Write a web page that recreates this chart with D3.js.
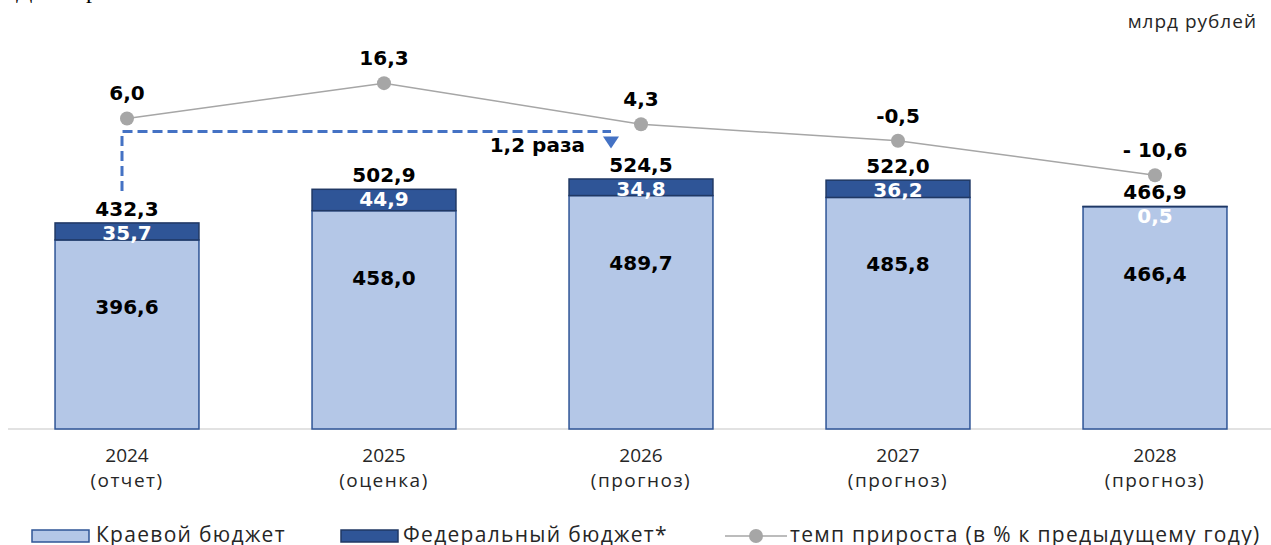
<!DOCTYPE html>
<html>
<head>
<meta charset="utf-8">
<script src="https://cdn.jsdelivr.net/npm/d3@7"></script>
<style>
  body { margin: 0; background: #fff; }
  svg { display: block; }
</style>
</head>
<body>
<div id="chart"></div>
<script>
// data
var years = ["2024", "2025", "2026", "2027", "2028"];
var subLabels = ["(отчет)", "(оценка)", "(прогноз)", "(прогноз)", "(прогноз)"];
var kraevoy = [396.6, 458.0, 489.7, 485.8, 466.4];
var federal = [35.7, 44.9, 34.8, 36.2, 0.5];
var totals = [432.3, 502.9, 524.5, 522.0, 466.9];
var growth = [6.0, 16.3, 4.3, -0.5, -10.6];
var growthLabels = ["6,0", "16,3", "4,3", "-0,5", "- 10,6"];

var W = 1271, H = 545;
var fmt = function (v) { return v.toFixed(1).replace(".", ","); };

var svg = d3.select("#chart")
  .append("svg")
  .attr("width", W)
  .attr("height", H);

var x = d3.scaleBand()
  .domain(years)
  .range([-1.5, 1283.5])
  .paddingInner(0.44)
  .paddingOuter(0.22);

var y = d3.scaleLinear()
  .domain([0, 900])
  .range([429, 0]);

var yLine = d3.scaleLinear()
  .domain([-40, 40])
  .range([276, 2]);

var boldFont = "'DejaVu Sans', Verdana, sans-serif";
var plainFont = "'Open Sans', 'Noto Sans', sans-serif";

// cut-off heading above the chart
svg.append("text")
  .attr("x", 16).attr("y", -2)
  .style("font-family", "'Liberation Serif', serif")
  .style("font-size", 24)
  .text("Д");
svg.append("text")
  .attr("x", 86).attr("y", -2)
  .style("font-family", "'Liberation Serif', serif")
  .style("font-size", 24)
  .text("р");

// units
svg.append("text")
  .attr("x", 1257).attr("y", 28)
  .attr("text-anchor", "end")
  .attr("fill", "#262626")
  .style("font-family", plainFont)
  .style("font-size", 19)
  .style("letter-spacing", "1px")
  .text("млрд рублей");

// axis line
svg.append("line")
  .attr("x1", 8).attr("x2", W)
  .attr("y1", y(0)).attr("y2", y(0))
  .attr("stroke", "#d9d9d9")
  .attr("stroke-width", 1.5);

var rows = years.map(function (d, i) {
  return { year: d, sub: subLabels[i], k: kraevoy[i], f: federal[i], t: totals[i], g: growth[i], gl: growthLabels[i] };
});

// bars
var bars = svg.append("g");
bars.selectAll("rect.k")
  .data(rows).enter()
  .append("rect")
  .attr("x", function (d) { return x(d.year); })
  .attr("y", function (d) { return y(d.k); })
  .attr("width", x.bandwidth())
  .attr("height", function (d) { return y(0) - y(d.k); })
  .attr("fill", "#b4c7e7")
  .attr("stroke", "#2f5597")
  .attr("stroke-width", 1.5);

bars.selectAll("rect.f")
  .data(rows).enter()
  .append("rect")
  .attr("x", function (d) { return x(d.year); })
  .attr("y", function (d) { return y(d.k + d.f); })
  .attr("width", x.bandwidth())
  .attr("height", function (d) { return y(d.k) - y(d.k + d.f); })
  .attr("fill", "#2f5597")
  .attr("stroke", "#203864")
  .attr("stroke-width", 1.5);

// bar labels
var cx = function (d) { return x(d.year) + x.bandwidth() / 2; };

svg.append("g").selectAll("text")
  .data(rows).enter()
  .append("text")
  .attr("x", cx)
  .attr("y", function (d) { return y(d.t) - 7; })
  .attr("text-anchor", "middle")
  .style("font-family", boldFont)
  .style("font-weight", "bold")
  .style("font-size", 20)
  .text(function (d) { return fmt(d.t); });

svg.append("g").selectAll("text")
  .data(rows).enter()
  .append("text")
  .attr("x", cx)
  .attr("y", function (d) { return y(d.k + d.f) + 17; })
  .attr("text-anchor", "middle")
  .attr("fill", "#fff")
  .style("font-family", boldFont)
  .style("font-weight", "bold")
  .style("font-size", 20)
  .text(function (d) { return fmt(d.f); });

svg.append("g").selectAll("text")
  .data(rows).enter()
  .append("text")
  .attr("x", cx)
  .attr("y", function (d) { return y(d.k) + 74; })
  .attr("text-anchor", "middle")
  .style("font-family", boldFont)
  .style("font-weight", "bold")
  .style("font-size", 20)
  .text(function (d) { return fmt(d.k); });

// growth line
var line = d3.line()
  .x(cx)
  .y(function (d) { return yLine(d.g); });

svg.append("path")
  .datum(rows)
  .attr("d", line)
  .attr("fill", "none")
  .attr("stroke", "#a6a6a6")
  .attr("stroke-width", 1.5);

svg.append("g").selectAll("circle")
  .data(rows).enter()
  .append("circle")
  .attr("cx", cx)
  .attr("cy", function (d) { return yLine(d.g); })
  .attr("r", 7)
  .attr("fill", "#a6a6a6");

svg.append("g").selectAll("text")
  .data(rows).enter()
  .append("text")
  .attr("x", cx)
  .attr("y", function (d) { return yLine(d.g) - 18; })
  .attr("text-anchor", "middle")
  .style("font-family", boldFont)
  .style("font-weight", "bold")
  .style("font-size", 20)
  .text(function (d) { return d.gl; });

// comparison arrow 2024 -> 2026
var ax1 = cx(rows[0]) - 5, ax2 = cx(rows[2]) - 30;
var ay = yLine(growth[0]) + 13;
svg.append("path")
  .attr("d", "M" + ax1 + "," + (y(totals[0]) - 32) + "V" + ay + "H" + ax2)
  .attr("fill", "none")
  .attr("stroke", "#4472c4")
  .attr("stroke-width", 3)
  .attr("stroke-dasharray", "10,5");
svg.append("path")
  .attr("d", "M" + (ax2 - 8) + "," + (ay + 5) + "L" + (ax2 + 8) + "," + (ay + 5) + "L" + ax2 + "," + (ay + 17) + "Z")
  .attr("fill", "#4472c4");
svg.append("text")
  .attr("x", ax2 - 26).attr("y", ay + 21)
  .attr("text-anchor", "end")
  .style("font-family", boldFont)
  .style("font-weight", "bold")
  .style("font-size", 20)
  .text("1,2 раза");

// category labels
var cat = svg.append("g").selectAll("g")
  .data(rows).enter()
  .append("g");
cat.append("text")
  .attr("x", cx).attr("y", 462)
  .attr("text-anchor", "middle")
  .attr("fill", "#262626")
  .style("font-family", plainFont)
  .style("font-size", 19)
  .text(function (d) { return d.year; });
cat.append("text")
  .attr("x", cx).attr("y", 487)
  .attr("text-anchor", "middle")
  .attr("fill", "#262626")
  .style("font-family", plainFont)
  .style("font-size", 19)
  .style("letter-spacing", "1.5px")
  .text(function (d) { return d.sub; });

// legend
var lg = svg.append("g").attr("transform", "translate(0,536)");
var legendText = function (xPos, label) {
  lg.append("text").attr("x", xPos).attr("y", 6)
    .attr("fill", "#262626")
    .style("font-family", plainFont)
    .style("font-size", 21)
    .style("letter-spacing", "1.3px")
    .text(label);
};
lg.append("rect").attr("x", 32).attr("y", -6).attr("width", 57).attr("height", 12)
  .attr("fill", "#b4c7e7").attr("stroke", "#2f5597").attr("stroke-width", 1.5);
legendText(96, "Краевой бюджет");
lg.append("rect").attr("x", 341).attr("y", -6).attr("width", 57).attr("height", 12)
  .attr("fill", "#2f5597").attr("stroke", "#203864").attr("stroke-width", 1.5);
legendText(403, "Федеральный бюджет*");
lg.append("line").attr("x1", 725).attr("x2", 787).attr("y1", 0).attr("y2", 0)
  .attr("stroke", "#a6a6a6").attr("stroke-width", 1.5);
lg.append("circle").attr("cx", 756).attr("cy", 0).attr("r", 7).attr("fill", "#a6a6a6");
legendText(790, "темп прироста (в % к предыдущему году)");
</script>
</body>
</html>
